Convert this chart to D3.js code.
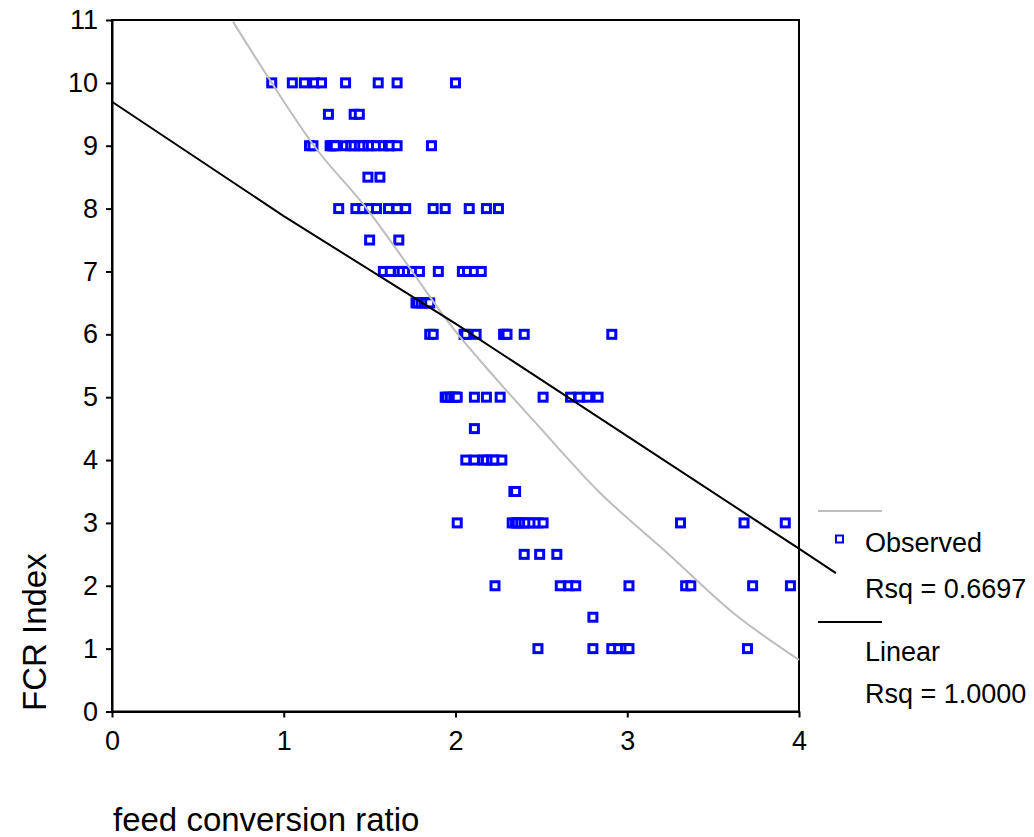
<!DOCTYPE html>
<html>
<head>
<meta charset="utf-8">
<script src="https://cdn.jsdelivr.net/npm/d3@7/dist/d3.min.js"></script>
<style>
  html, body { margin: 0; padding: 0; background: #fff; }
  svg { display: block; font-family: "Liberation Sans", Arial, sans-serif; }
</style>
</head>
<body>
<svg id="chart" width="1034" height="837"></svg>
<script>
// FCR index levels and the feed conversion ratios observed at each level
const levels = [10, 9.5, 9, 8.5, 8, 7.5, 7, 6.5, 6, 5, 4.5, 4, 3.5, 3, 2.5, 2, 1.5, 1];
const ratios = [
  [0.93, 1.05, 1.12, 1.18, 1.22, 1.36, 1.55, 1.66, 2.00],
  [1.26, 1.41, 1.44],
  [1.15, 1.17, 1.27, 1.28, 1.29, 1.30, 1.36, 1.39, 1.41, 1.44, 1.46, 1.49, 1.51, 1.54, 1.58, 1.61, 1.62, 1.66, 1.86],
  [1.49, 1.56],
  [1.32, 1.42, 1.46, 1.50, 1.54, 1.61, 1.66, 1.71, 1.87, 1.94, 2.08, 2.18, 2.25],
  [1.50, 1.67],
  [1.58, 1.62, 1.67, 1.69, 1.72, 1.75, 1.79, 1.90, 2.04, 2.07, 2.11, 2.15],
  [1.77, 1.78, 1.80, 1.82, 1.83, 1.85],
  [1.85, 1.87, 2.05, 2.06, 2.12, 2.28, 2.29, 2.30, 2.40, 2.91],
  [1.94, 1.95, 1.97, 1.99, 2.00, 2.01, 2.11, 2.18, 2.26, 2.51, 2.67, 2.72, 2.77, 2.83],
  [2.11],
  [2.06, 2.11, 2.16, 2.18, 2.21, 2.23, 2.27],
  [2.34, 2.35],
  [2.01, 2.33, 2.35, 2.36, 2.38, 2.40, 2.42, 2.45, 2.48, 2.51, 3.31, 3.68, 3.92],
  [2.40, 2.49, 2.59],
  [2.23, 2.61, 2.66, 2.70, 3.01, 3.34, 3.37, 3.73, 3.95],
  [2.80],
  [2.48, 2.80, 2.91, 2.95, 2.99, 3.01, 3.70]
];

// Grey curve
const curveX = [0.705, 0.93, 1.176, 1.483, 1.753, 1.948, 2.24, 2.451, 2.841, 3.23, 3.616, 4.0];
const curveY = [10.97, 10.0, 9.0, 8.0, 6.98, 6.23, 5.28, 4.64, 3.48, 2.53, 1.57, 0.82];

// Black linear fit line
const fitX = [0, 1, 2, 3, 4, 4.215];
const fitY = [9.70, 7.88, 6.17, 4.38, 2.59, 2.20];

const xTicks = [0, 1, 2, 3, 4];
const yTicks = [0, 1, 2, 3, 4, 5, 6, 7, 8, 9, 10, 11];

const legendItems = ["Observed", "Rsq = 0.6697", "Linear", "Rsq = 1.0000"];

(function draw() {
  const svg = d3.select("#chart");
  const plotLeft = 112, plotRight = 799, plotTop = 20, plotBottom = 711.5;

  const x = d3.scaleLinear().domain([0, 4]).range([plotLeft, plotRight]);
  const y = d3.scaleLinear().domain([0, 11]).range([plotBottom, plotTop]);

  // Frame
  svg.append("rect")
    .attr("x", plotLeft).attr("y", plotTop)
    .attr("width", plotRight - plotLeft).attr("height", plotBottom - plotTop)
    .attr("fill", "none").attr("stroke", "#000").attr("stroke-width", 2);

  // Axes
  const yAxis = svg.append("g")
    .attr("transform", `translate(${plotLeft},0)`)
    .call(d3.axisLeft(y).tickValues(yTicks).tickSize(6).tickSizeOuter(0).tickPadding(8).tickFormat(d3.format("d")));
  const xAxis = svg.append("g")
    .attr("transform", `translate(0,${plotBottom})`)
    .call(d3.axisBottom(x).tickValues(xTicks).tickSize(6).tickSizeOuter(0).tickPadding(13).tickFormat(d3.format("d")));

  [xAxis, yAxis].forEach(g => {
    g.select(".domain").attr("stroke", "#000").attr("stroke-width", 2);
    g.selectAll(".tick line").attr("stroke", "#000").attr("stroke-width", 2);
    g.selectAll(".tick text")
      .attr("fill", "#000")
      .style("font-size", "27px")
      .style("font-family", '"Liberation Sans", Arial, sans-serif');
  });

  // Observed points
  const points = [];
  levels.forEach((lv, i) => ratios[i].forEach(r => points.push({ r, lv })));

  const s = 8;
  svg.append("g").selectAll("rect")
    .data(points)
    .join("rect")
    .attr("x", d => x(d.r) - s / 2)
    .attr("y", d => y(d.lv) - s / 2)
    .attr("width", s).attr("height", s)
    .attr("fill", "#fff")
    .attr("stroke", "#0000ff")
    .attr("stroke-width", 3);

  // Grey curve and black fit line
  svg.append("path")
    .datum(curveX.map((v, i) => [v, curveY[i]]))
    .attr("d", d3.line().x(d => x(d[0])).y(d => y(d[1])).curve(d3.curveMonotoneX))
    .attr("fill", "none")
    .attr("stroke", "#bdbdbd")
    .attr("stroke-width", 2);

  svg.append("path")
    .datum(fitX.map((v, i) => [v, fitY[i]]))
    .attr("d", d3.line().x(d => x(d[0])).y(d => y(d[1])))
    .attr("fill", "none")
    .attr("stroke", "#000")
    .attr("stroke-width", 2);

  // Axis titles
  svg.append("text")
    .attr("x", 113).attr("y", 831)
    .style("font-size", "33px")
    .attr("fill", "#000")
    .text("feed conversion ratio");

  svg.append("text")
    .attr("transform", "translate(46,711) rotate(-90)")
    .style("font-size", "33px")
    .attr("fill", "#000")
    .text("FCR Index");

  // Legend
  const lg = svg.append("g");
  lg.append("line")
    .attr("x1", 818).attr("x2", 882).attr("y1", 511).attr("y2", 511)
    .attr("stroke", "#bdbdbd").attr("stroke-width", 2);
  lg.append("rect")
    .attr("x", 836).attr("y", 535.5).attr("width", 7).attr("height", 7)
    .attr("fill", "#fff").attr("stroke", "#0000ff").attr("stroke-width", 2);
  lg.append("line")
    .attr("x1", 818).attr("x2", 882).attr("y1", 622).attr("y2", 622)
    .attr("stroke", "#000").attr("stroke-width", 2);

  const legendBaselines = [552, 598, 661, 703];
  lg.selectAll("text.lbl")
    .data(legendItems)
    .join("text")
    .attr("class", "lbl")
    .attr("x", 865)
    .attr("y", (d, i) => legendBaselines[i])
    .style("font-size", "27px")
    .attr("fill", "#000")
    .text(d => d);
})();
</script>
</body>
</html>
